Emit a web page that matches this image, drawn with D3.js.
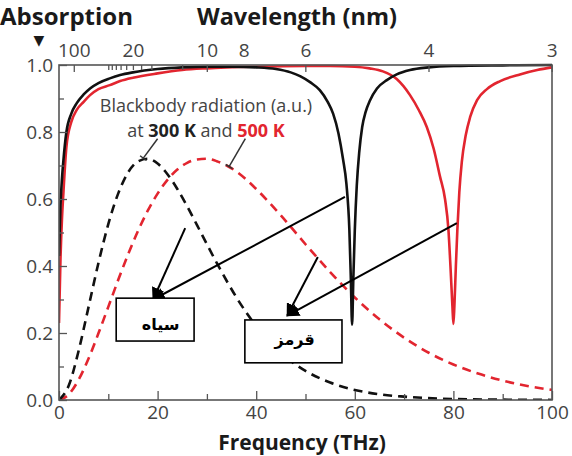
<!DOCTYPE html>
<html>
<head>
<meta charset="utf-8">
<script src="https://cdn.jsdelivr.net/npm/d3@7"></script>
<style>
  html, body { margin: 0; padding: 0; background: #fff; }
  svg { display: block; }
</style>
</head>
<body>
<svg id="chart" width="572" height="456"></svg>
<script>
// ---------- DATA ----------
// Absorption (black) vs frequency (THz)
const blackAbsX = [0, 0.3, 0.6, 0.9, 1.5, 2.5, 3.6, 5, 6.3, 8, 10.3, 12.4, 15, 20, 25, 30, 35, 40, 44, 47, 49, 51, 52.9, 54.5, 55.6, 56.7, 57.6, 58.3, 58.9, 59.2, 59.45, 59.7, 60.0, 60.4, 60.9, 61.5, 62.2, 63.1, 64.5, 66.5, 68.5, 71.2, 75, 80, 90, 100];
const blackAbsY = [0.43, 0.58, 0.66, 0.716, 0.80, 0.855, 0.886, 0.912, 0.93, 0.946, 0.96, 0.97, 0.978, 0.988, 0.993, 0.995, 0.995, 0.993, 0.988, 0.978, 0.966, 0.948, 0.925, 0.89, 0.855, 0.795, 0.72, 0.645, 0.507, 0.36, 0.225, 0.36, 0.507, 0.64, 0.74, 0.815, 0.86, 0.895, 0.93, 0.955, 0.972, 0.985, 0.993, 0.997, 0.999, 1.0];
// Absorption (red)
const redAbsX = [0, 0.3, 0.6, 0.9, 1.5, 2.5, 3.6, 5, 6.3, 8, 10.3, 12.4, 15, 20, 25, 30, 40, 50, 55, 60, 63, 65.7, 68.5, 71.2, 73, 74.6, 76, 77.3, 78.3, 79.0, 79.4, 79.8, 80.0, 80.2, 80.5, 80.8, 81.2, 81.7, 82.5, 83.4, 84.8, 86.8, 89.5, 93.5, 97, 100];
const redAbsY = [0.23, 0.42, 0.54, 0.62, 0.755, 0.83, 0.866, 0.89, 0.91, 0.928, 0.94, 0.952, 0.962, 0.975, 0.985, 0.99, 0.995, 0.997, 0.997, 0.995, 0.99, 0.981, 0.958, 0.91, 0.865, 0.815, 0.75, 0.666, 0.6, 0.507, 0.4, 0.28, 0.227, 0.28, 0.4, 0.507, 0.62, 0.71, 0.79, 0.845, 0.895, 0.928, 0.952, 0.972, 0.985, 0.993];
// Blackbody radiation 300 K (black dashed)
const bb300X = [0, 2, 4, 6, 8, 10, 12, 14, 16, 18, 20, 22, 24, 26, 28, 30, 32, 34, 36, 38, 40, 45, 50, 55, 60, 65, 70, 80, 90, 100];
const bb300Y = [0, 0.044, 0.148, 0.278, 0.409, 0.525, 0.616, 0.679, 0.712, 0.72, 0.706, 0.674, 0.630, 0.578, 0.522, 0.465, 0.409, 0.356, 0.306, 0.261, 0.221, 0.141, 0.087, 0.052, 0.030, 0.017, 0.010, 0.003, 0.001, 0.0002];
// Blackbody radiation 500 K (red dashed)
const bb500X = [0, 2, 4, 6, 8, 10, 12, 14, 16, 18, 20, 22, 24, 26, 28, 30, 32, 34, 36, 38, 40, 45, 50, 55, 60, 65, 70, 75, 80, 85, 90, 95, 100];
const bb500Y = [0, 0.017, 0.061, 0.124, 0.199, 0.278, 0.358, 0.434, 0.504, 0.565, 0.616, 0.657, 0.688, 0.708, 0.718, 0.72, 0.713, 0.700, 0.682, 0.658, 0.630, 0.551, 0.465, 0.382, 0.306, 0.241, 0.186, 0.141, 0.106, 0.079, 0.058, 0.042, 0.030];

// Tick labels
const freqTicks = [0, 20, 40, 60, 80, 100];
const freqMinorTicks = [10, 30, 50, 70, 90];
const absTicks = [0, 0.2, 0.4, 0.6, 0.8, 1.0];
const absMinorTicks = [0.1, 0.3, 0.5, 0.7, 0.9];
const waveLabels = [100, 20, 10, 8, 6, 4, 3];           // labelled wavelengths
const waveMajorTicks = [100, 10, 6, 4, 3];
const waveMinorTicks = [30, 28, 26, 24, 22, 20, 18, 16, 12];

// ---------- LAYOUT ----------
const svg = d3.select("#chart");
const x = d3.scaleLinear().domain([0, 100]).range([59, 552]);
const y = d3.scaleLinear().domain([0, 1]).range([400, 65]);
const waveToFreq = w => 299.8 / w;

const RED = "#e2252f";
const BLACK = "#111";
const AXIS = "#555";
const LABEL = "#444";
const tickFont = "'Open Sans', sans-serif";

const lineGen = d3.line().x(d => x(d[0])).y(d => y(d[1])).curve(d3.curveMonotoneX);
const zip = (a, b) => a.map((v, i) => [v, b[i]]);

const defs = svg.append("defs");
defs.append("clipPath").attr("id", "clip")
  .append("rect").attr("x", x(0)).attr("y", y(1) - 2).attr("width", x(100) - x(0)).attr("height", y(0) - y(1) + 2);

const plot = svg.append("g");

// Dashed blackbody curves
plot.append("path").datum(zip(bb500X, bb500Y))
  .attr("d", lineGen).attr("fill", "none").attr("stroke", RED)
  .attr("stroke-width", 2.6).attr("stroke-dasharray", "9,6").attr("clip-path", "url(#clip)");
plot.append("path").datum(zip(bb300X, bb300Y))
  .attr("d", lineGen).attr("fill", "none").attr("stroke", BLACK)
  .attr("stroke-width", 2.6).attr("stroke-dasharray", "9,6").attr("clip-path", "url(#clip)");

// Absorption curves
plot.append("path").datum(zip(redAbsX, redAbsY))
  .attr("d", lineGen).attr("fill", "none").attr("stroke", RED)
  .attr("stroke-width", 2.6).attr("clip-path", "url(#clip)");
plot.append("path").datum(zip(blackAbsX, blackAbsY))
  .attr("d", lineGen).attr("fill", "none").attr("stroke", BLACK)
  .attr("stroke-width", 2.6).attr("clip-path", "url(#clip)");

// ---------- AXES ----------
function styleAxis(g) {
  g.select(".domain").remove();
  g.selectAll(".tick line").attr("stroke", AXIS).attr("stroke-width", 1.3);
  g.selectAll(".tick text").attr("fill", LABEL).attr("font-family", tickFont).attr("font-size", 19);
}

// bottom
svg.append("g").attr("transform", `translate(0,${y(0)})`)
  .call(d3.axisBottom(x).tickValues(freqTicks).tickSize(-9).tickPadding(5).tickFormat(d3.format("d")))
  .call(styleAxis);
svg.append("g").attr("transform", `translate(0,${y(0)})`)
  .call(d3.axisBottom(x).tickValues(freqMinorTicks).tickSize(-6).tickFormat(""))
  .call(styleAxis);

// left
svg.append("g").attr("transform", `translate(${x(0)},0)`)
  .call(d3.axisLeft(y).tickValues(absTicks).tickSize(-8).tickPadding(6).tickFormat(d3.format(".1f")))
  .call(styleAxis);
svg.append("g").attr("transform", `translate(${x(0)},0)`)
  .call(d3.axisLeft(y).tickValues(absMinorTicks).tickSize(-5).tickFormat(""))
  .call(styleAxis);

// top (wavelength)
svg.append("g").attr("transform", `translate(0,${y(1)})`)
  .call(d3.axisTop(x).tickValues(waveLabels.map(waveToFreq)).tickSize(0).tickPadding(8)
    .tickFormat((d, i) => String(waveLabels[i])))
  .call(styleAxis);
svg.append("g").attr("transform", `translate(0,${y(1)})`)
  .call(d3.axisTop(x).tickValues(waveMajorTicks.map(waveToFreq)).tickSize(-7).tickFormat(""))
  .call(styleAxis);
svg.append("g").attr("transform", `translate(0,${y(1)})`)
  .call(d3.axisTop(x).tickValues(waveMinorTicks.map(waveToFreq)).tickSize(-5).tickFormat(""))
  .call(styleAxis);

// frame
svg.append("rect").attr("x", x(0)).attr("y", y(1))
  .attr("width", x(100) - x(0)).attr("height", y(0) - y(1))
  .attr("fill", "none").attr("stroke", AXIS).attr("stroke-width", 1.6);

// ---------- TITLES ----------
const boldFont = "'Open Sans', sans-serif";
svg.append("text").attr("x", 0).attr("y", 25).text("Absorption")
  .attr("font-family", boldFont).attr("font-weight", 700).attr("font-size", 24).attr("fill", "#1a1a1a");
svg.append("text").attr("x", 297).attr("y", 25).attr("text-anchor", "middle").text("Wavelength (nm)")
  .attr("font-family", boldFont).attr("font-weight", 700).attr("font-size", 23.5).attr("fill", "#1a1a1a");
svg.append("text").attr("x", 302).attr("y", 450).attr("text-anchor", "middle").text("Frequency (THz)")
  .attr("font-family", boldFont).attr("font-weight", 700).attr("font-size", 21).attr("fill", "#1a1a1a");
svg.append("text").attr("x", 39).attr("y", 45).attr("text-anchor", "middle").text("▼")
  .attr("font-family", "'DejaVu Sans', sans-serif").attr("font-size", 14).attr("fill", "#1a1a1a");

// ---------- BLACKBODY LABEL ----------
const lbl = svg.append("text").attr("font-family", tickFont).attr("font-size", 18).attr("fill", LABEL)
  .attr("text-anchor", "middle");
lbl.append("tspan").attr("x", 206).attr("y", 112).text("Blackbody radiation (a.u.)");
const l2 = lbl.append("tspan").attr("x", 206).attr("y", 137);
l2.append("tspan").text("at ");
l2.append("tspan").attr("font-weight", 700).attr("fill", "#222").text("300 K");
l2.append("tspan").text(" and ");
l2.append("tspan").attr("font-weight", 700).attr("fill", RED).text("500 K");

// leader lines (data coords)
const leaders = [
  { from: [20.0, 0.78], to: [17.1, 0.722] },
  { from: [37.8, 0.78], to: [34.5, 0.697] }
];
leaders.forEach(l => {
  const x1 = x(l.from[0]), y1 = y(l.from[1]), x2 = x(l.to[0]), y2 = y(l.to[1]);
  svg.append("line").attr("x1", x1).attr("y1", y1).attr("x2", x2).attr("y2", y2)
    .attr("stroke", "#333").attr("stroke-width", 1.5);
  const dx = x2 - x1, dy = y2 - y1, len = Math.hypot(dx, dy);
  const px = -dy / len * 4, py = dx / len * 4;
  svg.append("line").attr("x1", x2 - px).attr("y1", y2 - py).attr("x2", x2 + px).attr("y2", y2 + py)
    .attr("stroke", "#333").attr("stroke-width", 1.5);
});

// ---------- ANNOTATION ARROWS & BOXES ----------
defs.append("marker").attr("id", "arrow").attr("viewBox", "0 0 10 10")
  .attr("refX", 9).attr("refY", 5).attr("markerWidth", 13).attr("markerHeight", 13)
  .attr("markerUnits", "userSpaceOnUse").attr("orient", "auto")
  .append("path").attr("d", "M0,0 L10,5 L0,10 z").attr("fill", "#000");

const arrows = [
  { from: [58.0, 0.606], to: [19.1, 0.30] },
  { from: [25.6, 0.513], to: [19.1, 0.30] },
  { from: [80.7, 0.528], to: [46.3, 0.252] },
  { from: [52.5, 0.427], to: [46.3, 0.252] }
];
arrows.forEach(a => {
  svg.append("line").attr("x1", x(a.from[0])).attr("y1", y(a.from[1]))
    .attr("x2", x(a.to[0])).attr("y2", y(a.to[1]))
    .attr("stroke", "#000").attr("stroke-width", 2).attr("marker-end", "url(#arrow)");
});

const boxes = [
  { x0: 11.6, x1: 27.4, y0: 0.304, y1: 0.176, label: "سیاه", tx: 20.6, ty: 0.208 },
  { x0: 37.7, x1: 57.4, y0: 0.239, y1: 0.111, label: "قرمز", tx: 47.8, ty: 0.163 }
];
boxes.forEach(b => {
  svg.append("rect").attr("x", x(b.x0)).attr("y", y(b.y0))
    .attr("width", x(b.x1) - x(b.x0)).attr("height", y(b.y1) - y(b.y0))
    .attr("fill", "#fff").attr("stroke", "#000").attr("stroke-width", 1.6);
  svg.append("text").attr("x", x(b.tx)).attr("y", y(b.ty)).attr("text-anchor", "middle")
    .attr("font-family", "'DejaVu Sans', sans-serif").attr("font-weight", 700).attr("font-size", 16)
    .attr("fill", "#000").attr("direction", "rtl").text(b.label);
});
</script>
</body>
</html>
